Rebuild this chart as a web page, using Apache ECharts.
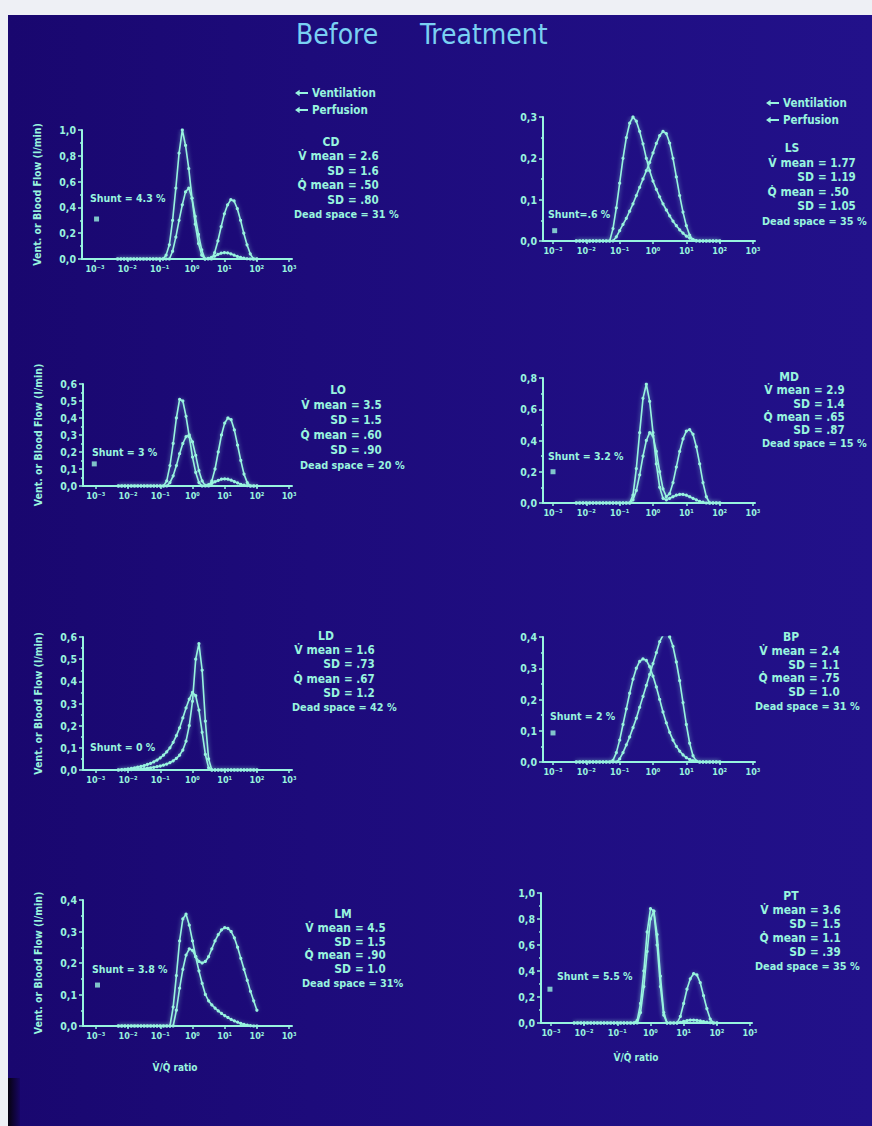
<!DOCTYPE html>
<html><head><meta charset="utf-8">
<script src="https://cdn.jsdelivr.net/npm/echarts@6/dist/echarts.min.js"></script>
<style>
html,body{margin:0;padding:0;background:#eef0f5;}
#slide{position:absolute;left:8px;top:15px;width:864px;height:1111px;background:linear-gradient(90deg,#19076f 0%,#1d0b7b 35%,#22118a 100%);}
#corner{position:absolute;left:8px;top:1078px;width:12px;height:48px;background:linear-gradient(90deg,#06020f,#170663);}
#chart{position:absolute;left:0;top:0;width:872px;height:1126px;}
</style></head><body>
<div id="slide"></div><div id="corner"></div><div id="chart"></div>
<script>
// ---------- DATA ----------
// log10(V/Q) compartments (x positions of every plotted point)
const logVQ = [-2.3,-2.2,-2.1,-2.0,-1.9,-1.8,-1.7,-1.6,-1.5,-1.4,
  -1.3,-1.2,-1.1,-1.0,-0.9,-0.8,-0.7,-0.6,-0.5,-0.4,
  -0.3,-0.2,-0.1,0.0,0.1,0.2,0.3,0.4,0.5,0.6,
  0.7,0.8,0.9,1.0,1.1,1.2,1.3,1.4,1.5,1.6,
  1.7,1.8,1.9,2.0];
const decadeTicks = [-3,-2,-1,0,1,2,3];
const decadeLabels = ['10\u207B\u00B3','10\u207B\u00B2','10\u207B\u00B9','10\u2070','10\u00B9','10\u00B2','10\u00B3'];

const panelIds  = ['CD','LS','LO','MD','LD','BP','LM','PT'];
const vMean     = ['2.6','1.77','3.5','2.9','1.6','2.4','4.5','3.6'];
const vSD       = ['1.6','1.19','1.5','1.4','.73','1.1','1.5','1.5'];
const qMean     = ['.50','.50','.60','.65','.67','.75','.90','1.1'];
const qSD       = ['.80','1.05','.90','.87','1.2','1.0','1.0','.39'];
const deadSpace = ['31 %','35 %','20 %','15 %','42 %','31 %','31%','35 %'];
const shuntLabels = ['Shunt = 4.3 %','Shunt=.6 %','Shunt = 3 %','Shunt = 3.2 %','Shunt = 0 %','Shunt = 2 %','Shunt = 3.8 %','Shunt = 5.5 %'];
const shuntX   = [-2.95,-2.95,-3.05,-3.0,null,-3.0,-2.95,-3.03];
const shuntVal = [0.31,0.025,0.13,0.2,null,0.093,0.13,0.26];
const yMax  = [1.0,0.3,0.6,0.8,0.6,0.4,0.4,1.0];
const yStep = [0.2,0.1,0.1,0.2,0.1,0.1,0.1,0.2];

const perfCD = [0,0,0,0,0,0,0,0,0,0,
  0,0,0,0,0,0.03,0.11,0.3,0.55,0.82,
  1.0,0.88,0.7,0.47,0.27,0.12,0.03,0,0.005,0.012,
  0.022,0.035,0.045,0.05,0.047,0.04,0.03,0.02,0.012,0.006,
  0.002,0,0,0];
const ventCD = [0,0,0,0,0,0,0,0,0,0,
  0,0,0,0,0,0,0,0.06,0.17,0.3,
  0.42,0.52,0.55,0.47,0.33,0.19,0.07,0,0,0,
  0.05,0.14,0.25,0.35,0.42,0.46,0.45,0.39,0.3,0.2,
  0.11,0.04,0,0];
const perfLS = [0,0,0,0,0,0,0,0,0,0,
  0,0.03,0.08,0.14,0.2,0.25,0.285,0.3,0.29,0.265,
  0.235,0.2,0.17,0.145,0.125,0.107,0.09,0.075,0.061,0.048,
  0.037,0.027,0.019,0.012,0.007,0.003,0.001,0,0,0,
  0,0,0,0];
const ventLS = [0,0,0,0,0,0,0,0,0,0,
  0,0,0.01,0.025,0.04,0.055,0.072,0.09,0.11,0.13,
  0.15,0.17,0.19,0.213,0.236,0.255,0.265,0.26,0.237,0.2,
  0.155,0.11,0.07,0.037,0.014,0.003,0,0,0,0,
  0,0,0,0];
const perfLO = [0,0,0,0,0,0,0,0,0,0,
  0,0,0,0,0,0.03,0.12,0.25,0.4,0.51,
  0.5,0.41,0.29,0.17,0.08,0.02,0,0.003,0.008,0.015,
  0.025,0.033,0.04,0.042,0.04,0.034,0.026,0.018,0.01,0.005,
  0.002,0,0,0];
const ventLO = [0,0,0,0,0,0,0,0,0,0,
  0,0,0,0,0,0,0.02,0.06,0.12,0.19,
  0.25,0.29,0.3,0.26,0.18,0.09,0.03,0,0,0.03,
  0.1,0.2,0.3,0.37,0.4,0.39,0.33,0.24,0.15,0.07,
  0.02,0,0,0];
const perfMD = [0,0,0,0,0,0,0,0,0,0,
  0,0,0,0,0,0,0,0.05,0.22,0.45,
  0.67,0.76,0.65,0.45,0.25,0.1,0.03,0.02,0.03,0.04,
  0.05,0.055,0.055,0.05,0.04,0.03,0.02,0.01,0.005,0,
  0,0,0,0];
const ventMD = [0,0,0,0,0,0,0,0,0,0,
  0,0,0,0,0,0,0,0.02,0.08,0.18,
  0.3,0.4,0.45,0.43,0.33,0.2,0.09,0.04,0.06,0.13,
  0.23,0.33,0.41,0.46,0.47,0.44,0.36,0.25,0.13,0.04,
  0,0,0,0];
const perfLD = [0,0.002,0.003,0.005,0.007,0.01,0.013,0.016,0.02,0.025,
  0.03,0.037,0.045,0.055,0.067,0.082,0.1,0.125,0.155,0.19,
  0.235,0.28,0.32,0.35,0.335,0.27,0.17,0.07,0.01,0,
  0,0,0,0,0,0,0,0,0,0,
  0,0,0,0];
const ventLD = [0,0.001,0.001,0.002,0.002,0.003,0.004,0.005,0.006,0.008,
  0.01,0.012,0.015,0.018,0.022,0.027,0.033,0.041,0.052,0.067,
  0.09,0.13,0.2,0.31,0.5,0.57,0.45,0.22,0.05,0,
  0,0,0,0,0,0,0,0,0,0,
  0,0,0,0];
const perfBP = [0,0,0,0,0,0,0,0,0,0,
  0,0.005,0.03,0.07,0.12,0.17,0.22,0.265,0.3,0.322,
  0.33,0.325,0.305,0.275,0.24,0.2,0.16,0.125,0.095,0.07,
  0.05,0.035,0.023,0.014,0.008,0.004,0.002,0,0,0,
  0,0,0,0];
const ventBP = [0,0,0,0,0,0,0,0,0,0,
  0,0,0,0.01,0.03,0.055,0.08,0.11,0.14,0.175,
  0.21,0.245,0.28,0.315,0.35,0.385,0.405,0.41,0.4,0.37,
  0.32,0.26,0.19,0.12,0.06,0.02,0.003,0,0,0,
  0,0,0,0];
const perfLM = [0,0,0,0,0,0,0,0,0,0,
  0,0,0,0,0,0,0,0.06,0.16,0.27,
  0.34,0.355,0.32,0.27,0.22,0.175,0.135,0.1,0.08,0.067,
  0.057,0.048,0.04,0.033,0.027,0.021,0.016,0.012,0.008,0.005,
  0.003,0.001,0,0];
const ventLM = [0,0,0,0,0,0,0,0,0,0,
  0,0,0,0,0,0,0,0,0.05,0.12,
  0.18,0.225,0.245,0.24,0.22,0.205,0.2,0.205,0.22,0.245,
  0.27,0.29,0.305,0.312,0.31,0.3,0.28,0.25,0.215,0.18,
  0.145,0.11,0.08,0.05];
const perfPT = [0,0,0,0,0,0,0,0,0,0,
  0,0,0,0,0,0,0,0,0,0.02,
  0.15,0.4,0.7,0.88,0.86,0.6,0.28,0.06,0,0,
  0,0,0.005,0.012,0.018,0.022,0.022,0.02,0.016,0.011,
  0.006,0.003,0,0];
const ventPT = [0,0,0,0,0,0,0,0,0,0,
  0,0,0,0,0,0,0,0,0,0,
  0.08,0.28,0.55,0.8,0.86,0.68,0.36,0.08,0,0,
  0,0,0.05,0.15,0.26,0.34,0.38,0.37,0.31,0.21,
  0.11,0.03,0,0];
const perfusion   = [perfCD,perfLS,perfLO,perfMD,perfLD,perfBP,perfLM,perfPT];
const ventilation = [ventCD,ventLS,ventLO,ventMD,ventLD,ventBP,ventLM,ventPT];

// ---------- LAYOUT / STYLE ----------
const C = '#98f4df';
const FONT = "'DejaVu Sans Condensed','DejaVu Sans',sans-serif";
const grids = [
  {left:82, top:130, width:210, height:129},
  {left:543,top:117, width:212, height:124},
  {left:83, top:384, width:209, height:102},
  {left:543,top:378, width:212, height:125},
  {left:83, top:637, width:209, height:133},
  {left:543,top:637, width:212, height:125},
  {left:83, top:900, width:209, height:126},
  {left:541,top:893, width:211, height:130}
];
const xRange = [[-3.4,3.09],[-3.3,3.06],[-3.4,3.09],[-3.3,3.06],[-3.4,3.09],[-3.3,3.06],[-3.4,3.09],[-3.3,3.06]];
// [id centre x, "=" column x, dead-space left x, first row y, row step]
const statsPos = [[331,348,294,142,14.4],[792,818,762,148,14.6],[338,351,300,390,15],[789,814,762,377,13.3],
                  [326,344,292,636,14.2],[791,809,755,637,13.8],[343,355,302,914,13.8],[791,810,755,896,14]];
const shuntPos = [[90,198],[548,214],[92,452],[548,456],[90,747],[550,716],[92,969],[557,976]];
const ratioPos = [[175,1067],[636,1057]];

const txt = (x,y,text,size,align,extra) => ({type:'text', x:x, y:y, silent:true,
  style:Object.assign({text:text, fill:C, fontSize:size, fontWeight:'bold', fontFamily:FONT,
    align:align||'left', verticalAlign:'middle', textAlign:align||'left', textVerticalAlign:'middle'}, extra||{})});

const xAxes = [], yAxes = [], series = [], graphic = [];
grids.forEach((g,i) => {
  const leftCol = (i % 2 === 0);
  xAxes.push({type:'value', gridIndex:i, min:xRange[i][0], max:xRange[i][1],
    axisLine:{onZero:false, lineStyle:{color:C,width:2}}, splitLine:{show:false},
    axisTick:{customValues:decadeTicks, length:3, lineStyle:{color:C,width:1.5}},
    axisLabel:{customValues:decadeTicks, color:C, fontSize:9, fontWeight:'bold', fontFamily:FONT, margin:5,
      formatter:v => decadeLabels[decadeTicks.indexOf(Math.round(v))]}});
  yAxes.push({type:'value', gridIndex:i, min:0, max:yMax[i], interval:yStep[i],
    axisLine:{show:true, onZero:false, lineStyle:{color:C,width:2}}, splitLine:{show:false},
    axisTick:{show:true, length:4, lineStyle:{color:C,width:1.5}},
    minorTick:{show:true, splitNumber:2, length:2, lineStyle:{color:C,width:1.5}},
    axisLabel:{color:C, fontSize:10.5, fontWeight:'bold', fontFamily:FONT, margin:6,
      formatter:v => v.toFixed(1).replace('.',',')},
    name: leftCol ? 'Vent. or Blood Flow (l/min)' : '', nameLocation:'middle', nameRotate:90, nameGap:40,
    nameTextStyle:{color:C, fontSize:10.5, fontWeight:'bold', fontFamily:FONT}});
  [['Perfusion',perfusion[i]],['Ventilation',ventilation[i]]].forEach(([nm,arr]) => {
    series.push({type:'line', name:nm, xAxisIndex:i, yAxisIndex:i, silent:true,
      data: logVQ.map((x,k) => [x, arr[k]]),
      symbol:'circle', symbolSize:3.2, showAllSymbol:true,
      lineStyle:{color:C, width:1.6, shadowBlur:4, shadowColor:'rgba(150,245,225,0.6)'},
      itemStyle:{color:C}});
  });
  if (shuntVal[i] !== null) {
    series.push({type:'scatter', xAxisIndex:i, yAxisIndex:i, silent:true,
      data:[[shuntX[i], shuntVal[i]]], symbol:'rect', symbolSize:5, itemStyle:{color:C}});
  }
  const s = statsPos[i];
  graphic.push(txt(s[0], s[3], panelIds[i], 12, 'center'));
  const rows = [['V\u0307 mean', vMean[i]], ['SD', vSD[i]], ['Q\u0307 mean', qMean[i]], ['SD', qSD[i]]];
  rows.forEach((r,k) => {
    graphic.push(txt(s[1]-4, s[3]+s[4]*(k+1), r[0], 12, 'right'));
    graphic.push(txt(s[1], s[3]+s[4]*(k+1), '= ' + r[1], 11.5, 'left'));
  });
  graphic.push(txt(s[2], s[3]+s[4]*5, 'Dead space = ' + deadSpace[i], 10.8, 'left'));
  graphic.push(txt(shuntPos[i][0], shuntPos[i][1], shuntLabels[i], 10.5, 'left'));
});
ratioPos.forEach(p => graphic.push(txt(p[0], p[1], 'V\u0307/Q\u0307 ratio', 10, 'center')));
graphic.push({type:'text', x:296, y:34, silent:true, style:{text:'Before', fill:'#7ad0f2', fontSize:28, fontFamily:FONT, align:'left', verticalAlign:'middle', textVerticalAlign:'middle'}});
graphic.push({type:'text', x:420, y:34, silent:true, style:{text:'Treatment', fill:'#7ad0f2', fontSize:28, fontFamily:FONT, align:'left', verticalAlign:'middle', textVerticalAlign:'middle'}});

const arrowIcon = 'path://M0,3.5 L5,0 L5,2.3 L14,2.3 L14,4.7 L5,4.7 L5,7 Z';
const legendBase = {orient:'vertical', itemGap:5, itemWidth:13, itemHeight:7, selectedMode:false,
  data:[{name:'Ventilation', icon:arrowIcon},{name:'Perfusion', icon:arrowIcon}],
  itemStyle:{color:C}, lineStyle:{width:0},
  textStyle:{color:C, fontSize:11.5, fontWeight:'bold', fontFamily:FONT, padding:[0,0,0,-1]}};

const chart = echarts.init(document.getElementById('chart'), null, {renderer:'svg'});
chart.setOption({
  backgroundColor:'transparent', animation:false,
  grid: grids, xAxis: xAxes, yAxis: yAxes, series: series, graphic: graphic,
  legend:[Object.assign({left:290, top:82}, legendBase), Object.assign({left:761, top:92}, legendBase)]
});
</script></body></html>
